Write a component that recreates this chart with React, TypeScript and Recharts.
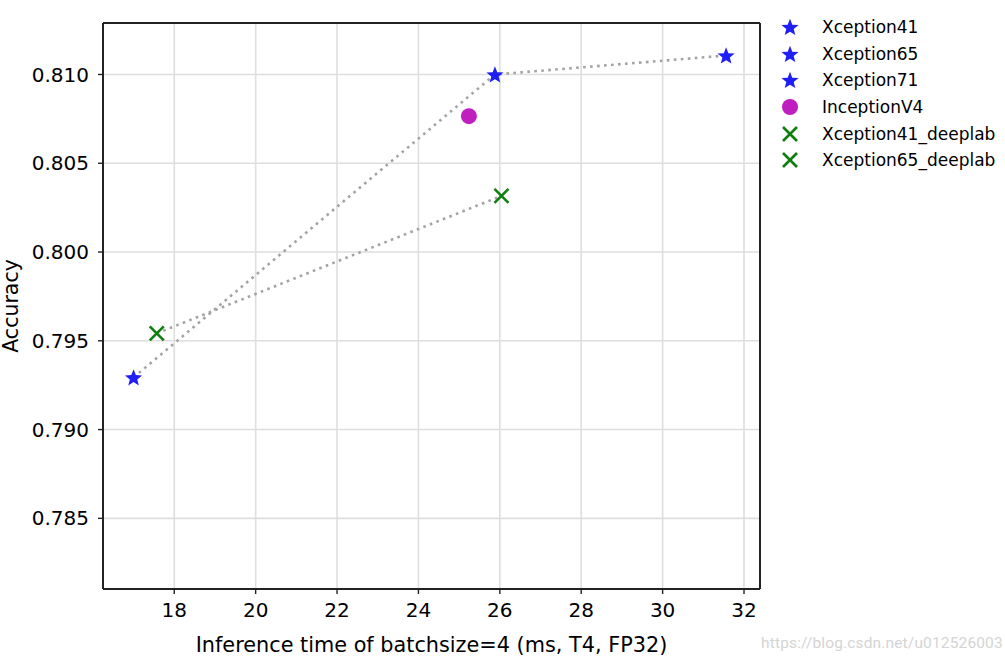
import { CartesianGrid, ReferenceLine, Scatter, ScatterChart, XAxis, YAxis } from "recharts";

const models = [
  "Xception41",
  "Xception65",
  "Xception71",
  "InceptionV4",
  "Xception41_deeplab",
  "Xception65_deeplab",
];
const latencyMs = [17.0, 25.88, 31.56, 25.24, 17.57, 26.04];
const accuracy = [0.79294, 0.81, 0.81107, 0.80765, 0.79542, 0.80316];
const markers = ["star", "star", "star", "circle", "x", "x"];

// which models are joined by the dotted lines
const xceptionLine = [0, 1, 2];
const deeplabLine = [4, 5];

const xTicks = [18, 20, 22, 24, 26, 28, 30, 32];
const yTicks = [0.785, 0.79, 0.795, 0.8, 0.805, 0.81];
const xDomain = [16.249, 32.393];
const yDomain = [0.78102, 0.8129];

const font = "DejaVu Sans, sans-serif";
const colors: Record<string, string> = { star: "#1f1ff5", circle: "#bf1fbf", x: "#107f10" };

const point = (i: number) => ({ x: latencyMs[i], y: accuracy[i], name: models[i] });

function Marker({ kind, cx, cy }: { kind: string; cx: number; cy: number }) {
  const c = colors[kind];
  if (kind === "circle") return <circle cx={cx} cy={cy} r={8} fill={c} />;
  if (kind === "x") {
    const s = 7;
    return (
      <g stroke={c} strokeWidth={2.6}>
        <line x1={cx - s} y1={cy - s} x2={cx + s} y2={cy + s} />
        <line x1={cx - s} y1={cy + s} x2={cx + s} y2={cy - s} />
      </g>
    );
  }
  const pts: string[] = [];
  for (let k = 0; k < 10; k++) {
    const r = k % 2 === 0 ? 9 : 3.9;
    const a = -Math.PI / 2 + (k * Math.PI) / 5;
    pts.push(`${cx + r * Math.cos(a)},${cy + 0.8 + r * Math.sin(a)}`);
  }
  return <polygon points={pts.join(" ")} fill={c} />;
}

function LegendBox() {
  return (
    <div style={{ position: "absolute", left: 778, top: 14, fontFamily: font, fontSize: 17, color: "#000" }}>
      {models.map((m, i) => (
        <div key={m} style={{ display: "flex", alignItems: "center", height: 26.6 }}>
          <svg width={24} height={24} style={{ marginRight: 20 }}>
            <Marker kind={markers[i]} cx={12} cy={12} />
          </svg>
          <span>{m}</span>
        </div>
      ))}
    </div>
  );
}

const lineStyle = { stroke: "#a3a3a3", strokeWidth: 2.6, strokeDasharray: "2.6 4.4", strokeLinecap: "butt" as const };

export default function App() {
  return (
    <div style={{ position: "absolute", left: 0, top: 0, width: 1005, height: 662, background: "#fff" }}>
      <ScatterChart width={1005} height={662} margin={{ top: 23, right: 245, bottom: 0, left: 0 }}>
        <CartesianGrid stroke="#dedede" strokeWidth={1.6} />
        <XAxis
          type="number"
          dataKey="x"
          domain={xDomain}
          ticks={xTicks}
          height={73}
          allowDataOverflow
          tickSize={5}
          tickMargin={9}
          tick={{ fill: "#000", fontSize: 20, fontFamily: font }}
          axisLine={{ stroke: "#222", strokeWidth: 2 }}
          tickLine={{ stroke: "#222", strokeWidth: 1.4 }}
          label={{
            value: "Inference time of batchsize=4 (ms, T4, FP32)",
            position: "insideBottom",
            offset: 10,
            fill: "#000",
            fontSize: 20.8,
            fontFamily: font,
          }}
        />
        <YAxis
          type="number"
          dataKey="y"
          domain={yDomain}
          ticks={yTicks}
          width={103}
          allowDataOverflow
          tickSize={5}
          tickMargin={9}
          tickFormatter={(v: number) => v.toFixed(3)}
          tick={{ fill: "#000", fontSize: 20, fontFamily: font }}
          axisLine={{ stroke: "#222", strokeWidth: 2 }}
          tickLine={{ stroke: "#222", strokeWidth: 1.4 }}
          label={(props: any) => {
            const vb = props.viewBox;
            const cy = vb.y + vb.height / 2;
            return (
              <text
                x={18}
                y={cy}
                transform={`rotate(-90, 18, ${cy})`}
                textAnchor="middle"
                fill="#000"
                fontSize={20.5}
                fontFamily={font}
              >
                Accuracy
              </text>
            );
          }}
        />
        <ReferenceLine y={yDomain[1]} stroke="#222" strokeWidth={2} />
        <ReferenceLine x={xDomain[1]} stroke="#222" strokeWidth={2} />
        <Scatter
          data={xceptionLine.map(point)}
          line={lineStyle}
          shape={() => <g />}
          isAnimationActive={false}
          legendType="none"
        />
        <Scatter
          data={deeplabLine.map(point)}
          line={lineStyle}
          shape={() => <g />}
          isAnimationActive={false}
          legendType="none"
        />
        {models.map((m, i) => (
          <Scatter
            key={m}
            name={m}
            data={[point(i)]}
            isAnimationActive={false}
            shape={(p: any) => <Marker kind={markers[i]} cx={p.cx} cy={p.cy} />}
          />
        ))}
      </ScatterChart>
      <LegendBox />
      <div
        style={{
          position: "absolute",
          left: 761,
          top: 634,
          fontFamily: "Liberation Sans Narrow, Roboto, sans-serif",
          fontSize: 15.5,
          color: "#d4d4d4",
          letterSpacing: 0.15,
        }}
      >
        https://blog.csdn.net/u012526003
      </div>
    </div>
  );
}
